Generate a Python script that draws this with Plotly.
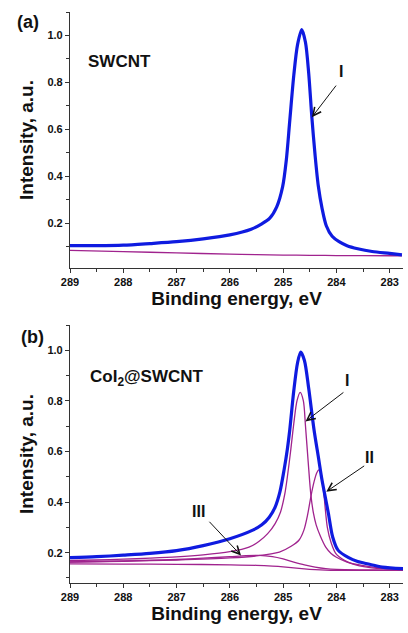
import plotly.graph_objects as go

# ---------- Panel (a): SWCNT ----------
E_a_env = [289.0, 288.5, 288.0, 287.5, 287.0, 286.5, 286.0, 285.6, 285.4, 285.25, 285.12, 285.01,
           284.94, 284.875, 284.8, 284.73, 284.65, 284.58, 284.52, 284.46, 284.4, 284.34, 284.27,
           284.19, 284.08, 283.95, 283.8, 283.6, 283.33, 283.0, 282.77]
I_a_env = [0.105, 0.105, 0.107, 0.114, 0.122, 0.134, 0.151, 0.175, 0.198, 0.222, 0.270, 0.355,
           0.470, 0.638, 0.830, 0.960, 1.025, 0.970, 0.840, 0.650, 0.490, 0.360, 0.265,
           0.190, 0.145, 0.122, 0.105, 0.092, 0.080, 0.072, 0.066]
E_a_bg = [289.0, 288.0, 287.0, 286.0, 285.5, 285.0, 284.5, 284.0, 283.0, 282.77]
I_a_bg = [0.085, 0.080, 0.074, 0.069, 0.067, 0.065, 0.064, 0.063, 0.062, 0.062]

# ---------- Panel (b): CoI2@SWCNT ----------
E_b_env = [289.0, 288.5, 288.0, 287.5, 287.0, 286.5, 286.0, 285.57, 285.4, 285.26, 285.15, 285.06,
           284.98, 284.92, 284.875, 284.8, 284.73, 284.67, 284.6, 284.52, 284.42, 284.34, 284.27,
           284.2, 284.15, 284.07, 283.97, 283.77, 283.6, 283.4, 283.14, 282.71]
I_b_env = [0.180, 0.184, 0.190, 0.197, 0.208, 0.228, 0.255, 0.289, 0.310, 0.340, 0.380, 0.440,
           0.530, 0.610, 0.686, 0.840, 0.950, 0.993, 0.960, 0.850, 0.686, 0.580, 0.487,
           0.410, 0.355, 0.262, 0.210, 0.180, 0.165, 0.155, 0.143, 0.136]

E_b_p1 = [289.0, 288.5, 288.0, 287.5, 287.0, 286.5, 286.0, 285.64, 285.45, 285.29, 285.15, 285.05,
          284.97, 284.92, 284.86, 284.8, 284.74, 284.68, 284.62, 284.58, 284.53, 284.48, 284.43,
          284.38, 284.3, 284.2, 284.1, 284.0, 283.8, 283.52, 283.2, 282.7]
I_b_p1 = [0.169, 0.171, 0.174, 0.178, 0.183, 0.191, 0.204, 0.222, 0.245, 0.275, 0.315, 0.360,
          0.430, 0.500, 0.600, 0.710, 0.800, 0.834, 0.800, 0.700, 0.560, 0.430, 0.355,
          0.310, 0.265, 0.222, 0.197, 0.182, 0.163, 0.150, 0.140, 0.134]

E_b_p2 = [289.0, 288.0, 287.0, 286.0, 285.5, 285.07, 284.85, 284.7, 284.61, 284.54, 284.48, 284.42,
          284.37, 284.33, 284.29, 284.26, 284.23, 284.17, 284.1, 284.01, 283.85, 283.7, 283.4,
          283.0, 282.7]
I_b_p2 = [0.163, 0.166, 0.171, 0.179, 0.187, 0.202, 0.225, 0.250, 0.289, 0.350, 0.421, 0.480,
          0.515, 0.527, 0.515, 0.480, 0.421, 0.300, 0.240, 0.196, 0.170, 0.156, 0.142,
          0.135, 0.133]

E_b_p3 = [289.0, 288.5, 288.0, 287.5, 287.0, 286.5, 286.0, 285.7, 285.45, 285.2, 285.0, 284.8,
          284.6, 284.4, 284.2, 284.0, 283.5, 283.0, 282.7]
I_b_p3 = [0.163, 0.165, 0.167, 0.170, 0.173, 0.178, 0.184, 0.188, 0.189, 0.184, 0.175, 0.163,
          0.152, 0.143, 0.137, 0.134, 0.132, 0.131, 0.131]

E_b_bg = [289.0, 288.0, 287.0, 286.0, 285.5, 285.2, 285.0, 284.8, 284.6, 284.4, 284.2, 284.0,
          283.0, 282.7]
I_b_bg = [0.156, 0.155, 0.154, 0.152, 0.150, 0.147, 0.144, 0.140, 0.136, 0.133, 0.131, 0.130,
          0.130, 0.130]

x_ticks = [289, 288, 287, 286, 285, 284, 283]
y_ticks = [0.2, 0.4, 0.6, 0.8, 1.0]

BLUE = "#0f1be0"
PURPLE = "#a0238e"
FONT = "Liberation Sans, Arial, sans-serif"

fig = go.Figure()

def purple(x, y, xa, ya):
    fig.add_trace(go.Scatter(x=x, y=y, mode="lines", xaxis=xa, yaxis=ya,
                             line=dict(color=PURPLE, width=1.3, shape="spline", smoothing=0.8),
                             showlegend=False, hoverinfo="skip"))

def blue(x, y, xa, ya):
    fig.add_trace(go.Scatter(x=x, y=y, mode="lines", xaxis=xa, yaxis=ya,
                             line=dict(color=BLUE, width=3.2, shape="spline", smoothing=0.8),
                             showlegend=False, hoverinfo="skip"))

purple(E_a_bg, I_a_bg, "x", "y")
blue(E_a_env, I_a_env, "x", "y")

purple(E_b_bg, I_b_bg, "x2", "y2")
purple(E_b_p3, I_b_p3, "x2", "y2")
purple(E_b_p2, I_b_p2, "x2", "y2")
purple(E_b_p1, I_b_p1, "x2", "y2")
blue(E_b_env, I_b_env, "x2", "y2")

tickfont = dict(family=FONT, size=11, color="#111", weight="bold")
titlefont = dict(family=FONT, size=19, color="#111", weight="bold")

def xaxis(anchor):
    return dict(range=[289, 282.75], anchor=anchor, tickvals=x_ticks, automargin=False,
                ticktext=[str(v) for v in x_ticks], ticks="outside", ticklen=4,
                tickwidth=1, tickcolor="#333", showline=True, linecolor="#333", linewidth=1.2,
                showgrid=False, zeroline=False, tickfont=tickfont,
                minor=dict(dtick=0.5, tick0=0, ticks="outside", ticklen=2.5, tickcolor="#333"),
                title=dict(text="Binding energy, eV", font=titlefont, standoff=3))

def yaxis(anchor, rng, dom):
    return dict(range=rng, domain=dom, anchor=anchor, tickvals=y_ticks, automargin=False,
                ticktext=["%.1f" % v for v in y_ticks], ticks="outside", ticklen=4,
                tickwidth=1, tickcolor="#333", showline=True, linecolor="#333", linewidth=1.2,
                showgrid=False, zeroline=False, tickfont=tickfont,
                minor=dict(dtick=0.1, tick0=0, ticks="outside", ticklen=2.5, tickcolor="#333"),
                title=dict(text="Intensity, a.u.", font=titlefont, standoff=8))

fig.update_layout(
    width=408, height=633,
    margin=dict(l=70, r=5, t=12, b=50),
    paper_bgcolor="white", plot_bgcolor="white",
    xaxis=xaxis("y"),
    yaxis=yaxis("x", [0.01, 1.1], [0.5517, 1.0]),
    xaxis2=xaxis("y2"),
    yaxis2=yaxis("x2", [0.08, 1.1], [0.0, 0.4518]),
)

ann = []
def text(x, y, t, xref, yref, size=17):
    ann.append(dict(x=x, y=y, xref=xref, yref=yref, text=t, showarrow=False,
                    xanchor="center", yanchor="middle",
                    font=dict(family=FONT, size=size, color="#111", weight="bold")))

def arrow(x, y, ax, ay, xr, yr):
    ann.append(dict(x=x, y=y, ax=ax, ay=ay, xref=xr, yref=yr, axref=xr, ayref=yr,
                    text="", showarrow=True, arrowhead=5, arrowsize=1.6, arrowwidth=1,
                    arrowcolor="#111"))

# panel labels (paper coords relative to plot area)
text(-0.126, 0.9825, "(a)", "paper", "paper", size=18)
text(-0.114, 0.431, "(b)", "paper", "paper", size=18)

text(288.07, 0.888, "SWCNT", "x", "y")
text(287.56, 0.892, "CoI<sub>2</sub>@SWCNT", "x2", "y2")

# peak labels (a)
text(283.91, 0.845, "I", "x", "y", size=16)
arrow(284.46, 0.652, 283.985, 0.793, "x", "y")
# peak labels (b)
text(283.80, 0.880, "I", "x2", "y2", size=16)
arrow(284.58, 0.719, 283.84, 0.838, "x2", "y2")
text(283.37, 0.575, "II", "x2", "y2", size=16)
arrow(284.19, 0.441, 283.45, 0.547, "x2", "y2")
text(286.58, 0.362, "III", "x2", "y2", size=16)
arrow(285.79, 0.189, 286.41, 0.328, "x2", "y2")

fig.update_layout(annotations=ann)
fig.write_html("out.html", config={"displayModeBar": False},
               post_script="document.body.style.margin='0';document.body.style.overflow='hidden';")
